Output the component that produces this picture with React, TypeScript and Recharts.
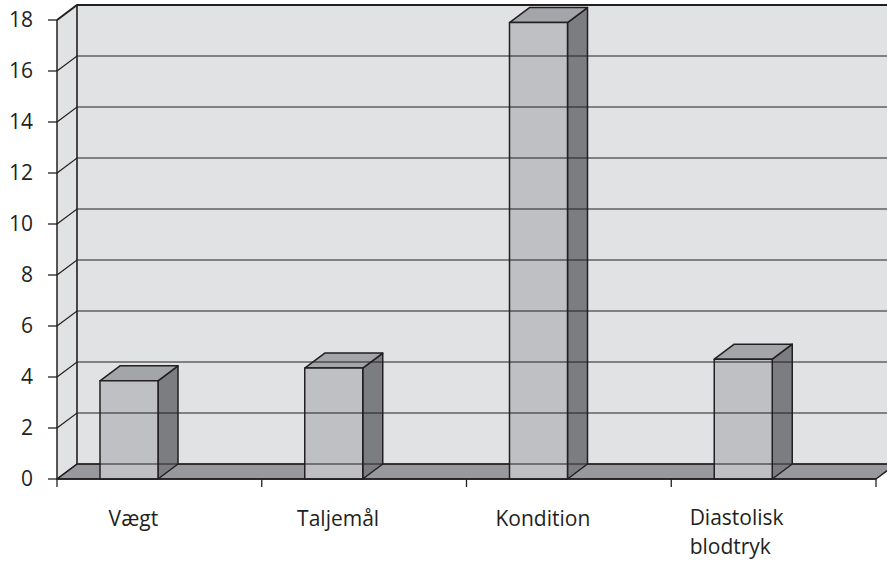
import { BarChart, Bar, XAxis, YAxis, ReferenceArea, ReferenceLine } from "recharts";

const categories = ["Vægt", "Taljemål", "Kondition", "Diastolisk blodtryk"];
const values = [3.85, 4.35, 17.9, 4.7];
const yTicks = [0, 2, 4, 6, 8, 10, 12, 14, 16, 18];

const data = categories.map((name, i) => ({ name, value: values[i] }));

const INK = "#231f20";
const FONT = "'Open Sans', 'Noto Sans', sans-serif";
// depth of the 3d projection
const DX = 20;
const DY = 15;

const WALL = "#e1e2e4";
const FLOOR = "#98999c";
const BAR_FRONT = "#bfc0c3";
const BAR_TOP = "#a4a5a8";
const BAR_SIDE = "#7c7d80";

function Walls(props: any) {
  const { x, y, width, height } = props;
  const b = y + height;
  const r = x + width;
  const n = categories.length;
  const ticks = [];
  for (let i = 0; i <= n; i++) {
    const tx = x + (i * width) / n;
    ticks.push(<line key={i} x1={tx} y1={b} x2={tx} y2={b + 8} stroke={INK} strokeWidth={1.3} />);
  }
  return (
    <g>
      <rect x={x + DX} y={y - DY} width={width} height={height} fill={WALL} />
      <polygon
        points={`${x},${y} ${x + DX},${y - DY} ${x + DX},${b - DY} ${x},${b}`}
        fill={WALL}
      />
      <polygon
        points={`${x},${b} ${x + DX},${b - DY} ${r + DX},${b - DY} ${r},${b}`}
        fill={FLOOR}
        stroke={INK}
        strokeWidth={1.5}
        strokeLinejoin="round"
      />
      <line x1={x + DX} y1={y - DY} x2={x + DX} y2={b - DY} stroke={INK} strokeWidth={1.6} />
      {ticks}
    </g>
  );
}

function GridLine(props: any) {
  const { x1, y1, x2 } = props;
  const top = props.isTop;
  return (
    <polyline
      points={`${x1},${y1} ${x1 + DX},${y1 - DY} ${x2 + DX},${y1 - DY}`}
      fill="none"
      stroke={INK}
      strokeWidth={top ? 2 : 1.2}
    />
  );
}

function Box3D(props: any) {
  const { x, y, width, height } = props;
  if (height == null || width == null) return null;
  const fx = x - 30;
  const r = fx + width;
  const b = y + height;
  return (
    <g stroke={INK} strokeWidth={1.5} strokeLinejoin="round">
      <polygon
        points={`${r},${y} ${r + DX},${y - DY} ${r + DX},${b - DY} ${r},${b}`}
        fill={BAR_SIDE}
      />
      <polygon
        points={`${fx},${y} ${fx + DX},${y - DY} ${r + DX},${y - DY} ${r},${y}`}
        fill={BAR_TOP}
      />
      <rect x={fx} y={y} width={width} height={height} fill={BAR_FRONT} />
    </g>
  );
}

function CategoryTick(props: any) {
  const { x, y, payload } = props;
  const words = String(payload.value).split(" ");
  if (words.length === 1) {
    return (
      <text x={x - 26} y={y + 39} textAnchor="middle" fill={INK} fontSize={21} fontFamily={FONT}>
        {payload.value}
      </text>
    );
  }
  return (
    <text x={x - 84} y={y + 38} textAnchor="start" fill={INK} fontSize={21} fontFamily={FONT}>
      {words.map((w, i) => (
        <tspan key={i} x={x - 84} dy={i === 0 ? 0 : 29}>
          {w}
        </tspan>
      ))}
    </text>
  );
}

export default function App() {
  return (
    <div style={{ position: "absolute", left: 0, top: 0, width: 887, height: 561, overflow: "hidden", background: "#fff" }}>
      <BarChart
        width={887}
        height={561}
        data={data}
        margin={{ top: 20, right: 11, left: 0, bottom: 0 }}
        barSize={58}
      >
        <ReferenceArea y1={0} y2={18} shape={Walls} ifOverflow="visible" />
        {yTicks.map((t, i) => (
          <ReferenceLine
            key={t}
            y={t}
            ifOverflow="visible"
            shape={(p: any) => <GridLine {...p} isTop={i === yTicks.length - 1} />}
          />
        ))}
        <XAxis
          dataKey="name"
          height={82}
          axisLine={{ stroke: INK, strokeWidth: 1.5 }}
          tickLine={false}
          tick={CategoryTick}
          interval={0}
        />
        <YAxis
          width={57}
          domain={[0, 18]}
          ticks={yTicks}
          interval={0}
          axisLine={{ stroke: INK, strokeWidth: 1.5 }}
          tickLine={{ stroke: INK, strokeWidth: 1.3 }}
          tickSize={9}
          tickMargin={15}
          tick={{ fill: INK, fontSize: 21, fontFamily: FONT }}
        />
        <Bar dataKey="value" shape={Box3D} isAnimationActive={false} />
      </BarChart>
    </div>
  );
}
